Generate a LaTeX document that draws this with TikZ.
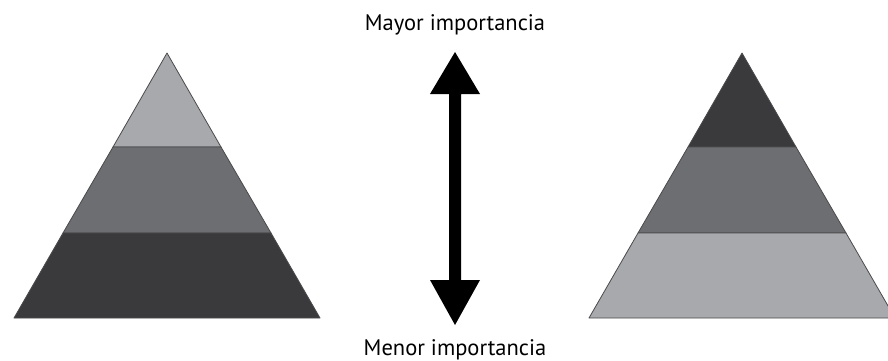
\documentclass[tikz,border=0pt]{standalone}
\usepackage{fontspec}
\setmainfont{PT Sans}
\definecolor{lightg}{HTML}{A7A9AC}
\definecolor{midg}{HTML}{6D6E71}
\definecolor{darkg}{HTML}{3A3A3C}
\definecolor{edgeg}{HTML}{4A4A4C}
\begin{document}
\begin{tikzpicture}[x=1pt,y=-1pt,
  band/.style={draw=edgeg,line width=0.8pt,line join=round},
  label/.style={anchor=base,font=\fontsize{22.5}{27}\selectfont,inner sep=0pt}]
\useasboundingbox (0,0) rectangle (888,361);
% left pyramid
\fill[lightg,band] (167,53) -- (221,147) -- (113,147) -- cycle;
\fill[midg,band] (113,147) -- (221,147) -- (271,233) -- (63,233) -- cycle;
\fill[darkg,band] (63,233) -- (271,233) -- (320,318) -- (14,318) -- cycle;
% right pyramid
\fill[darkg,band] (742,53) -- (796,147) -- (688,147) -- cycle;
\fill[midg,band] (688,147) -- (796,147) -- (846,233) -- (638,233) -- cycle;
\fill[lightg,band] (638,233) -- (846,233) -- (895,318) -- (589,318) -- cycle;
% labels
\node[label] (top) at (455,31) {Mayor importancia};
\node[label] (bot) at (455,355) {Menor importancia};
% double arrow
\fill[black] (455,52) -- (480,94) -- (461,94) -- (461,280) -- (480,280) -- (455,325)
  -- (430,280) -- (449,280) -- (449,94) -- (430,94) -- cycle;
\end{tikzpicture}
\end{document}
